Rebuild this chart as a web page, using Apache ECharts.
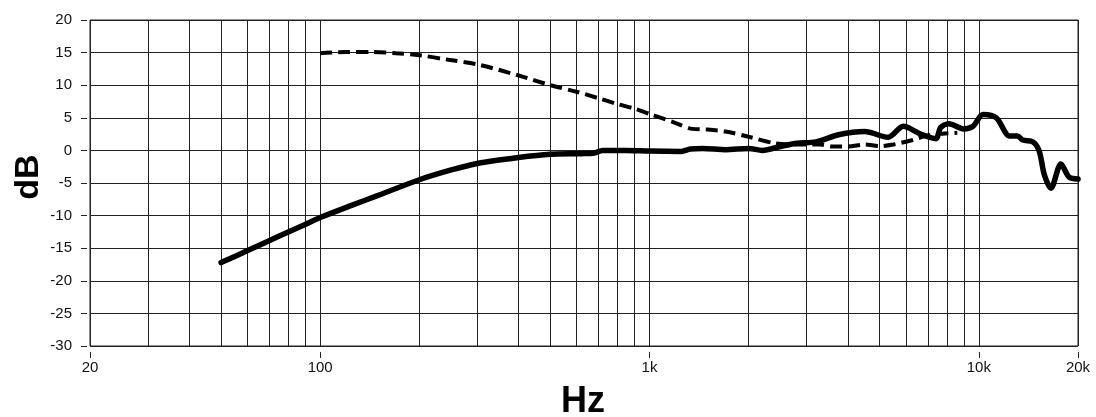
<!DOCTYPE html>
<html>
<head>
<meta charset="utf-8">
<script src="https://cdn.jsdelivr.net/npm/echarts@6/dist/echarts.min.js"></script>
<style>
html,body{margin:0;padding:0;background:#fff;}
#c{width:1096px;height:417px;}
</style>
</head>
<body>
<div id="c"></div>
<script>
// ---- data ----
const solidFreq = [50, 60, 70, 80, 90, 100, 125, 150, 200, 250, 300, 400, 500, 620, 680, 720, 850, 1000, 1250, 1330, 1450, 1700, 2000, 2200, 2500, 2800, 3200, 3750, 4500, 5300, 5900, 6600, 7400, 7650, 8100, 9000, 9600, 10300, 11300, 12400, 13100, 13600, 14600, 15250, 15800, 16550, 17750, 18800, 20000];
const solidDb   = [-17.2, -15.4, -13.85, -12.5, -11.35, -10.3, -8.4, -6.9, -4.5, -3.0, -2.0, -1.1, -0.6, -0.5, -0.4, 0.0, 0.0, -0.1, -0.15, 0.2, 0.3, 0.1, 0.3, 0.0, 0.6, 1.1, 1.3, 2.4, 2.9, 2.0, 3.7, 2.6, 1.8, 3.5, 4.1, 3.3, 3.7, 5.5, 5.0, 2.2, 2.2, 1.6, 1.3, -0.1, -3.7, -5.8, -2.1, -4.1, -4.4];
const dashFreq = [100, 120, 145, 170, 200, 245, 300, 400, 500, 600, 700, 800, 900, 1000, 1200, 1350, 1500, 1700, 2000, 2400, 2800, 3300, 3600, 4000, 4500, 5000, 5500, 6300, 7000, 7500, 8600];
const dashDb   = [14.9, 15.1, 15.1, 14.9, 14.6, 13.9, 13.2, 11.5, 10.0, 9.0, 8.0, 7.1, 6.4, 5.6, 4.2, 3.3, 3.2, 2.9, 2.1, 1.1, 0.9, 0.9, 0.6, 0.6, 0.9, 0.65, 0.9, 1.6, 2.3, 2.5, 2.7];
const gridFreqs = [20, 30, 40, 50, 60, 70, 80, 90, 100, 200, 300, 400, 500, 600, 700, 800, 900, 1000, 2000, 3000, 4000, 5000, 6000, 7000, 8000, 9000, 10000, 20000];
const xTickValues = [20, 100, 1000, 10000, 20000];
const xTickLabels = ['20', '100', '1k', '10k', '20k'];
const yTicks = [20, 15, 10, 5, 0, -5, -10, -15, -20, -25, -30];
const yTitle = 'dB';
const xTitle = 'Hz';

const pair = (f, v) => f.map((x, i) => [x, v[i]]);
const FONT = "'Liberation Sans', Arial, sans-serif";
const GRID = '#222';

const chart = echarts.init(document.getElementById('c'), null, {renderer: 'canvas'});
chart.setOption({
  animation: false,
  backgroundColor: '#fff',
  grid: {left: 90, right: 18, top: 20, bottom: 71, show: true, borderColor: GRID, borderWidth: 1, backgroundColor: 'transparent'},
  xAxis: [
    {
      type: 'log', logBase: 10, min: 20, max: 20000,
      axisLine: {show: false},
      axisTick: {show: false, customValues: gridFreqs},
      axisLabel: {show: false, customValues: gridFreqs},
      splitLine: {show: true, lineStyle: {color: GRID, width: 1}}
    },
    {
      type: 'log', logBase: 10, min: 20, max: 20000, position: 'bottom', offset: 6,
      axisLine: {show: false},
      axisTick: {show: true, length: 6, customValues: xTickValues, lineStyle: {color: GRID, width: 1}},
      axisLabel: {
        show: true, customValues: xTickValues, margin: 8,
        fontFamily: FONT, fontSize: 15, color: '#111',
        formatter: v => { const i = xTickValues.findIndex(t => Math.abs(t - v) / t < 1e-6); return i >= 0 ? xTickLabels[i] : ''; }
      },
      splitLine: {show: false}
    }
  ],
  yAxis: {
    type: 'value', min: yTicks[yTicks.length - 1], max: yTicks[0], interval: 5, offset: 3,
    axisLine: {show: false},
    axisTick: {show: true, length: 6, lineStyle: {color: GRID, width: 1}},
    axisLabel: {margin: 15, fontFamily: FONT, fontSize: 15, color: '#111'},
    splitLine: {show: true, lineStyle: {color: GRID, width: 1}}
  },
  graphic: [
    {type: 'text', x: 29, y: 177, rotation: Math.PI / 2,
     style: {text: yTitle, font: "bold 34px " + FONT, fill: '#000', textAlign: 'center', textVerticalAlign: 'middle'}},
    {type: 'text', x: 583, y: 402,
     style: {text: xTitle, font: "bold 36px " + FONT, fill: '#000', textAlign: 'center', textVerticalAlign: 'middle'}}
  ],
  series: [
    {
      type: 'line', xAxisIndex: 0, data: pair(dashFreq, dashDb), showSymbol: false, smooth: 0.3,
      lineStyle: {color: '#000', width: 4, type: [12, 6]}, z: 3
    },
    {
      type: 'line', xAxisIndex: 0, data: pair(solidFreq, solidDb), showSymbol: false, smooth: 0.3,
      lineStyle: {color: '#000', width: 5.5, cap: 'round', join: 'round'}, z: 4
    }
  ]
});
</script>
</body>
</html>
